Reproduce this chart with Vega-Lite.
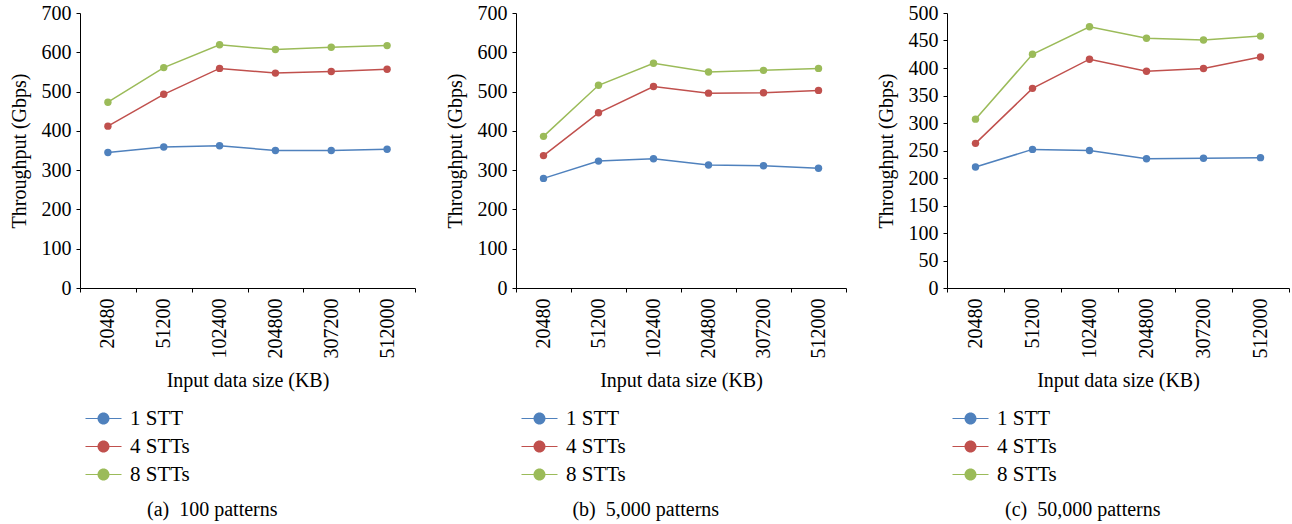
{
  "$schema": "https://vega.github.io/schema/vega-lite/v6.json",
  "background": "white",
  "padding": {"left": 9, "top": 3, "right": 2, "bottom": 2},
  "config": {
    "font": "Liberation Serif",
    "view": {"stroke": null},
    "axis": {
      "labelFont": "Liberation Serif",
      "titleFont": "Liberation Serif",
      "labelFontSize": 20,
      "titleFontSize": 20,
      "titleFontWeight": "normal",
      "labelColor": "black",
      "titleColor": "black",
      "domainColor": "black",
      "tickColor": "black",
      "grid": false,
      "tickSize": 4
    },
    "legend": {
      "labelFont": "Liberation Serif",
      "labelFontSize": 21,
      "labelColor": "black"
    },
    "title": {"font": "Liberation Serif", "fontSize": 20, "fontWeight": "normal", "color": "black"}
  },
  "data": {
    "values": [
      {"panel": "a", "size": 20480, "series": "1 STT", "value": 345},
      {"panel": "a", "size": 51200, "series": "1 STT", "value": 359},
      {"panel": "a", "size": 102400, "series": "1 STT", "value": 362},
      {"panel": "a", "size": 204800, "series": "1 STT", "value": 350},
      {"panel": "a", "size": 307200, "series": "1 STT", "value": 350},
      {"panel": "a", "size": 512000, "series": "1 STT", "value": 353},
      {"panel": "a", "size": 20480, "series": "4 STTs", "value": 412},
      {"panel": "a", "size": 51200, "series": "4 STTs", "value": 493},
      {"panel": "a", "size": 102400, "series": "4 STTs", "value": 559},
      {"panel": "a", "size": 204800, "series": "4 STTs", "value": 547},
      {"panel": "a", "size": 307200, "series": "4 STTs", "value": 551},
      {"panel": "a", "size": 512000, "series": "4 STTs", "value": 557},
      {"panel": "a", "size": 20480, "series": "8 STTs", "value": 473},
      {"panel": "a", "size": 51200, "series": "8 STTs", "value": 561},
      {"panel": "a", "size": 102400, "series": "8 STTs", "value": 619},
      {"panel": "a", "size": 204800, "series": "8 STTs", "value": 607},
      {"panel": "a", "size": 307200, "series": "8 STTs", "value": 613},
      {"panel": "a", "size": 512000, "series": "8 STTs", "value": 617},
      {"panel": "b", "size": 20480, "series": "1 STT", "value": 279},
      {"panel": "b", "size": 51200, "series": "1 STT", "value": 323},
      {"panel": "b", "size": 102400, "series": "1 STT", "value": 329},
      {"panel": "b", "size": 204800, "series": "1 STT", "value": 313},
      {"panel": "b", "size": 307200, "series": "1 STT", "value": 311},
      {"panel": "b", "size": 512000, "series": "1 STT", "value": 305},
      {"panel": "b", "size": 20480, "series": "4 STTs", "value": 337},
      {"panel": "b", "size": 51200, "series": "4 STTs", "value": 446},
      {"panel": "b", "size": 102400, "series": "4 STTs", "value": 513},
      {"panel": "b", "size": 204800, "series": "4 STTs", "value": 496},
      {"panel": "b", "size": 307200, "series": "4 STTs", "value": 497},
      {"panel": "b", "size": 512000, "series": "4 STTs", "value": 503},
      {"panel": "b", "size": 20480, "series": "8 STTs", "value": 386},
      {"panel": "b", "size": 51200, "series": "8 STTs", "value": 516},
      {"panel": "b", "size": 102400, "series": "8 STTs", "value": 572},
      {"panel": "b", "size": 204800, "series": "8 STTs", "value": 550},
      {"panel": "b", "size": 307200, "series": "8 STTs", "value": 554},
      {"panel": "b", "size": 512000, "series": "8 STTs", "value": 559},
      {"panel": "c", "size": 20480, "series": "1 STT", "value": 220},
      {"panel": "c", "size": 51200, "series": "1 STT", "value": 252},
      {"panel": "c", "size": 102400, "series": "1 STT", "value": 250},
      {"panel": "c", "size": 204800, "series": "1 STT", "value": 235},
      {"panel": "c", "size": 307200, "series": "1 STT", "value": 236},
      {"panel": "c", "size": 512000, "series": "1 STT", "value": 237},
      {"panel": "c", "size": 20480, "series": "4 STTs", "value": 263},
      {"panel": "c", "size": 51200, "series": "4 STTs", "value": 363},
      {"panel": "c", "size": 102400, "series": "4 STTs", "value": 416},
      {"panel": "c", "size": 204800, "series": "4 STTs", "value": 394},
      {"panel": "c", "size": 307200, "series": "4 STTs", "value": 399},
      {"panel": "c", "size": 512000, "series": "4 STTs", "value": 420},
      {"panel": "c", "size": 20480, "series": "8 STTs", "value": 307},
      {"panel": "c", "size": 51200, "series": "8 STTs", "value": 425},
      {"panel": "c", "size": 102400, "series": "8 STTs", "value": 475},
      {"panel": "c", "size": 204800, "series": "8 STTs", "value": 454},
      {"panel": "c", "size": 307200, "series": "8 STTs", "value": 451},
      {"panel": "c", "size": 512000, "series": "8 STTs", "value": 458}
    ]
  },
  "resolve": {"scale": {"y": "independent"}, "legend": {"color": "independent"}},
  "spacing": 29,
  "hconcat": [
    {
      "width": 335, "height": 275,
      "title": {"text": "(a)\u00a0 100 patterns", "orient": "bottom", "anchor": "middle", "frame": "bounds", "offset": 15},
      "transform": [{"filter": "datum.panel === 'a'"}],
      "encoding": {
        "x": {"field": "size", "type": "ordinal", "bandPosition": 0.5, "scale": {"type": "band", "paddingInner": 0, "paddingOuter": 0},
              "axis": {"title": "Input data size (KB)", "labelAngle": -90, "tickBand": "extent", "labelPadding": 6, "titlePadding": 12}},
        "y": {"field": "value", "type": "quantitative", "scale": {"domain": [0, 700], "nice": false},
              "axis": {"title": "Throughput (Gbps)", "values": [0,100,200,300,400,500,600,700], "titlePadding": 12, "labelPadding": 5}},
        "color": {"field": "series", "type": "nominal",
                  "scale": {"domain": ["1 STT", "4 STTs", "8 STTs"], "range": ["#4F81BD", "#C0504D", "#9BBB59"]},
                  "legend": {"title": null, "orient": "bottom", "direction": "vertical", "offset": 18,
                       "symbolType": "M-3,-0.1H-1V0.1H-3Z M1,-0.1H3V0.1H1Z M-1,0A1,1 0 1,1 1,0A1,1 0 1,1 -1,0Z",
                       "symbolSize": 144, "symbolOpacity": 1, "symbolStrokeWidth": 0, "labelOffset": 16, "rowPadding": 6, "padding": 0, "symbolOffset": 13}}
      },
      "layer": [
        {"mark": {"type": "line", "strokeWidth": 1.5}},
        {"mark": {"type": "point", "filled": true, "size": 55, "opacity": 1}}
      ]
    },
    {
      "width": 330, "height": 275,
      "title": {"text": "(b)\u00a0 5,000 patterns", "orient": "bottom", "anchor": "middle", "frame": "bounds", "offset": 15},
      "transform": [{"filter": "datum.panel === 'b'"}],
      "encoding": {
        "x": {"field": "size", "type": "ordinal", "bandPosition": 0.5, "scale": {"type": "band", "paddingInner": 0, "paddingOuter": 0},
              "axis": {"title": "Input data size (KB)", "labelAngle": -90, "tickBand": "extent", "labelPadding": 6, "titlePadding": 12}},
        "y": {"field": "value", "type": "quantitative", "scale": {"domain": [0, 700], "nice": false},
              "axis": {"title": "Throughput (Gbps)", "values": [0,100,200,300,400,500,600,700], "titlePadding": 12, "labelPadding": 5}},
        "color": {"field": "series", "type": "nominal",
                  "scale": {"domain": ["1 STT", "4 STTs", "8 STTs"], "range": ["#4F81BD", "#C0504D", "#9BBB59"]},
                  "legend": {"title": null, "orient": "bottom", "direction": "vertical", "offset": 18,
                       "symbolType": "M-3,-0.1H-1V0.1H-3Z M1,-0.1H3V0.1H1Z M-1,0A1,1 0 1,1 1,0A1,1 0 1,1 -1,0Z",
                       "symbolSize": 144, "symbolOpacity": 1, "symbolStrokeWidth": 0, "labelOffset": 16, "rowPadding": 6, "padding": 0, "symbolOffset": 13}}
      },
      "layer": [
        {"mark": {"type": "line", "strokeWidth": 1.5}},
        {"mark": {"type": "point", "filled": true, "size": 55, "opacity": 1}}
      ]
    },
    {
      "width": 342, "height": 275,
      "title": {"text": "(c)\u00a0 50,000 patterns", "orient": "bottom", "anchor": "middle", "frame": "bounds", "offset": 15},
      "transform": [{"filter": "datum.panel === 'c'"}],
      "encoding": {
        "x": {"field": "size", "type": "ordinal", "bandPosition": 0.5, "scale": {"type": "band", "paddingInner": 0, "paddingOuter": 0},
              "axis": {"title": "Input data size (KB)", "labelAngle": -90, "tickBand": "extent", "labelPadding": 6, "titlePadding": 12}},
        "y": {"field": "value", "type": "quantitative", "scale": {"domain": [0, 500], "nice": false},
              "axis": {"title": "Throughput (Gbps)", "values": [0,50,100,150,200,250,300,350,400,450,500], "titlePadding": 12, "labelPadding": 5}},
        "color": {"field": "series", "type": "nominal",
                  "scale": {"domain": ["1 STT", "4 STTs", "8 STTs"], "range": ["#4F81BD", "#C0504D", "#9BBB59"]},
                  "legend": {"title": null, "orient": "bottom", "direction": "vertical", "offset": 18,
                       "symbolType": "M-3,-0.1H-1V0.1H-3Z M1,-0.1H3V0.1H1Z M-1,0A1,1 0 1,1 1,0A1,1 0 1,1 -1,0Z",
                       "symbolSize": 144, "symbolOpacity": 1, "symbolStrokeWidth": 0, "labelOffset": 16, "rowPadding": 6, "padding": 0, "symbolOffset": 13}}
      },
      "layer": [
        {"mark": {"type": "line", "strokeWidth": 1.5}},
        {"mark": {"type": "point", "filled": true, "size": 55, "opacity": 1}}
      ]
    }
  ]
}
